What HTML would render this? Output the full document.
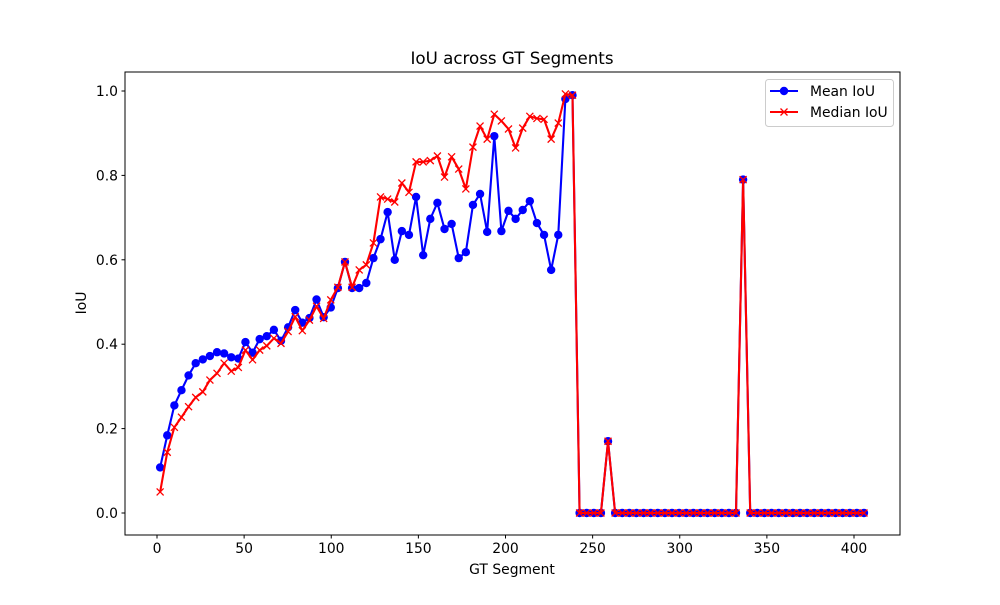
<!DOCTYPE html>
<html><head><meta charset="utf-8"><style>
body{margin:0;background:#fff;}
svg text{font-family:"DejaVu Sans","Liberation Sans",sans-serif;fill:#000;}
</style></head><body>
<svg id="chart" width="1000" height="600" xmlns="http://www.w3.org/2000/svg">
<rect x="0" y="0" width="1000" height="600" fill="#fff"/>
<text x="512" y="64" font-size="16.7" text-anchor="middle">IoU across GT Segments</text>
<text x="512" y="574" font-size="13.9" text-anchor="middle">GT Segment</text>
<text transform="translate(86,303) rotate(-90)" font-size="13.9" text-anchor="middle">IoU</text>
<g id="axes"></g>
<g id="series"></g>
<rect x="125" y="72" width="775" height="463" fill="none" stroke="#000" stroke-width="1"/>
<g>
<rect x="765.5" y="79.5" width="128" height="47" rx="3" fill="#fff" fill-opacity="0.8" stroke="#ccc"/>
<g>
<line x1="770" y1="91" x2="798" y2="91" stroke="#0000ff" stroke-width="2"/>
<circle cx="784" cy="91" r="4.2" fill="#0000ff"/>
<text x="810" y="96" font-size="13.9">Mean IoU</text>
</g>
<g>
<line x1="770" y1="112" x2="798" y2="112" stroke="#ff0000" stroke-width="2"/>
<path d="M780.5 108.5 L787.5 115.5 M787.5 108.5 L780.5 115.5" stroke="#ff0000" stroke-width="1.3"/>
<text x="810" y="117" font-size="13.9">Median IoU</text>
</g>
</g>
</svg>
<script>
const meanIoU = [0.108,0.184,0.255,0.291,0.326,0.355,0.364,0.372,0.381,0.378,0.369,0.366,0.405,0.38,0.412,0.419,0.434,0.408,0.44,0.481,0.451,0.462,0.506,0.464,0.487,
0.533,0.595,0.533,0.533,0.545,0.604,0.649,0.713,0.6,0.668,0.659,0.749,0.611,0.697,0.735,0.673,0.685,0.604,0.618,0.73,0.756,0.666,0.893,0.668,0.716,0.697,0.718,0.739,0.687,0.659,0.576,0.659,0.981,0.99,
0,0,0,0,0.17,0,0,0,0,0,0,0,0,0,0,0,0,0,0,0,0,0,0,0.79,0,0,0,0,0,0,0,0,0,0,0,0,0,0,0,0,0];
const medianIoU = [0.05,0.144,0.203,0.227,0.252,0.274,0.287,0.315,0.331,0.355,0.336,0.345,0.386,0.363,0.386,0.396,0.414,0.402,0.43,0.465,0.432,0.457,0.49,0.461,0.505,
0.535,0.595,0.535,0.576,0.588,0.64,0.749,0.744,0.737,0.782,0.76,0.832,0.832,0.835,0.846,0.796,0.844,0.815,0.768,0.867,0.917,0.886,0.945,0.929,0.91,0.865,0.912,0.94,0.935,0.933,0.886,0.924,0.993,0.99,
0,0,0,0,0.17,0,0,0,0,0,0,0,0,0,0,0,0,0,0,0,0,0,0,0.79,0,0,0,0,0,0,0,0,0,0,0,0,0,0,0,0,0];
const segStart = 1.8;
const segStep = 4.08;
const xTicks = [0,50,100,150,200,250,300,350,400];
const yTicks = [0.0,0.2,0.4,0.6,0.8,1.0];
const yTickLabels = ["0.0","0.2","0.4","0.6","0.8","1.0"];

const NS="http://www.w3.org/2000/svg";
function sx(v){return 157 + v*1.7425;}
function sy(v){return 513 - v*422;}
function mk(tag,attrs,parent){const e=document.createElementNS(NS,tag);for(const k in attrs)e.setAttribute(k,attrs[k]);parent.appendChild(e);return e;}
const axes=document.getElementById('axes');
xTicks.forEach(t=>{
  const g=mk('g',{},axes);
  
  
  mk('line',{x1:sx(t),y1:535,x2:sx(t),y2:538.5,stroke:'#000','stroke-width':1},g);
  const tx=mk('text',{x:sx(t),y:553,'font-size':13.9,'text-anchor':'middle'},g);tx.textContent=t;
});
yTicks.forEach((t,i)=>{
  const g=mk('g',{},axes);
  
  
  mk('line',{x1:121.5,y1:sy(t),x2:125,y2:sy(t),stroke:'#000','stroke-width':1},g);
  const tx=mk('text',{x:118,y:sy(t)+5,'font-size':13.9,'text-anchor':'end'},g);tx.textContent=yTickLabels[i];
});
const series=document.getElementById('series');
function xOf(i){return sx(segStart+segStep*i);}
function drawLine(vals,color,name){
  const g=mk('g',{},series);
  
  
  const pts=vals.map((v,i)=>xOf(i).toFixed(2)+','+sy(v).toFixed(2)).join(' ');
  mk('polyline',{points:pts,fill:'none',stroke:color,'stroke-width':2.1,'stroke-linejoin':'round'},g);
  return g;
}
const gm=drawLine(meanIoU,'#0000ff','mean-iou-line');
meanIoU.forEach((v,i)=>{
  const c=mk('circle',{cx:xOf(i),cy:sy(v),r:4.2,fill:'#0000ff'},gm);
  
  
});
const gr=drawLine(medianIoU,'#ff0000','median-iou-line');
medianIoU.forEach((v,i)=>{
  const x=xOf(i),y=sy(v),d=3.5;
  const p=mk('path',{d:`M${x-d} ${y-d} L${x+d} ${y+d} M${x+d} ${y-d} L${x-d} ${y+d}`,stroke:'#ff0000','stroke-width':1.3},gr);
  
  
});
</script>
</body></html>
